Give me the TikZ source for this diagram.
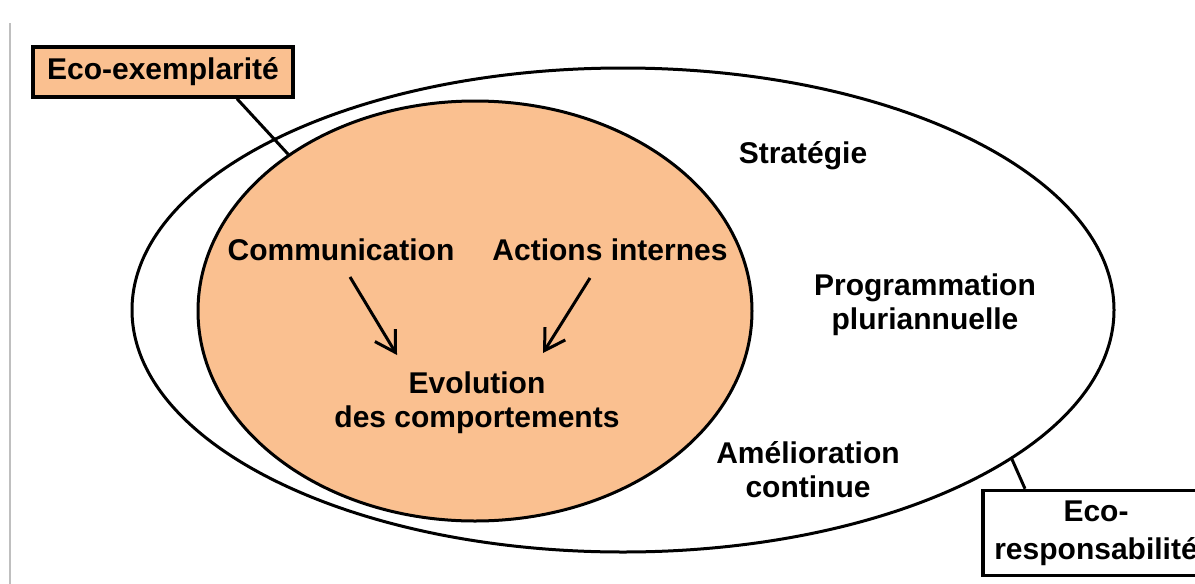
\documentclass[tikz,border=0pt]{standalone}
\usepackage{fontspec}
\setmainfont{Liberation Sans}
\usetikzlibrary{shapes.geometric,arrows.meta}
\definecolor{peach}{HTML}{FAC090}
\begin{document}
\begin{tikzpicture}[x=1pt,y=-1pt,
  lbl/.style={inner sep=0pt, align=center, font=\fontsize{30}{34}\selectfont\bfseries},
  ring/.style={ellipse, draw=black, line width=3pt, inner sep=0pt},
  tag/.style={draw=black, line width=3.5pt, inner sep=0pt, align=center, font=\fontsize{30}{38}\selectfont\bfseries},
  link/.style={line width=3pt},
  arr/.style={line width=3pt, -{Straight Barb[length=20pt,width=24pt,line width=3pt]}}]
\useasboundingbox (0,0) rectangle (1195,584);
\clip (0,0) rectangle (1195,584);
\fill[white] (0,0) rectangle (1195,584);
\draw[black!25, line width=1.5pt] (10,23) -- (10,584);
% ellipses
\node[ring, fill=white, minimum width=982pt, minimum height=484pt] (outer) at (623,310) {};
\node[ring, fill=peach, minimum width=554pt, minimum height=420pt] (inner) at (475,311) {};
% tags
\node[tag, fill=peach, minimum width=260pt, minimum height=50pt] (ecox) at (163,72) {Eco-exemplarité};
\node[tag, fill=white, minimum width=226pt, minimum height=85pt] (ecor) at (1096,533) {Eco-\\responsabilité};
\draw[link] ([xshift=74pt]ecox.south) -- (inner.140);
\draw[link] (outer.-21.5) -- ([xshift=-71pt]ecor.north);
% texts
\node[lbl, anchor=base] (strat) at (803,163) {Stratégie};
\node[lbl, anchor=base] (comm) at (341,260) {Communication};
\node[lbl, anchor=base] (act) at (610,260) {Actions internes};
\node[lbl, anchor=north] (prog) at (925,274) {Programmation\\pluriannuelle};
\node[lbl, anchor=north] (evol) at (477,372) {Evolution\\des comportements};
\node[lbl, anchor=north] (amel) at (808,441) {Amélioration\\continue};
% arrows
\draw[arr] ([xshift=9pt,yshift=-17pt]comm.base) -- ([xshift=-80pt,yshift=17pt]evol.north);
\draw[arr] ([xshift=-20pt,yshift=-18pt]act.base) -- ([xshift=66pt,yshift=19pt]evol.north);
\end{tikzpicture}
\end{document}
